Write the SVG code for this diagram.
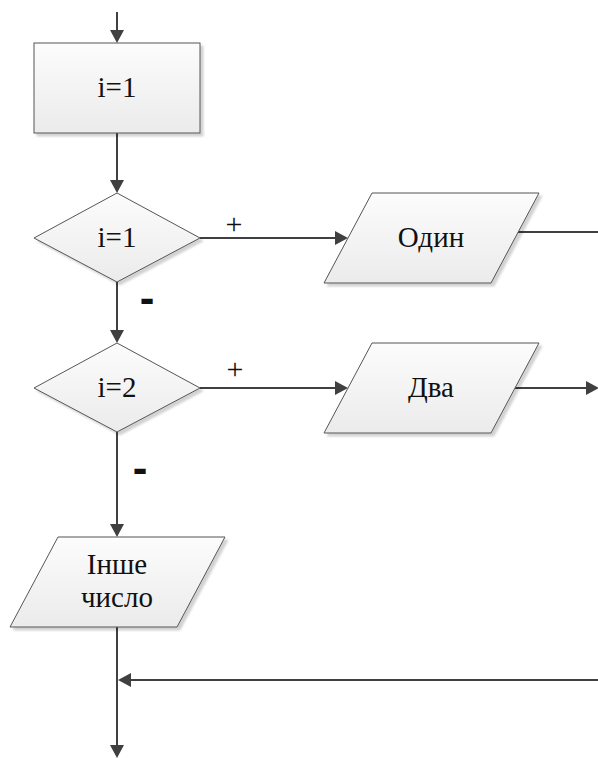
<svg xmlns="http://www.w3.org/2000/svg" width="598" height="758" viewBox="0 0 598 758">
  <defs>
    <linearGradient id="boxFill" x1="0" y1="0" x2="0" y2="1">
      <stop offset="0" stop-color="#fcfcfc"/>
      <stop offset="1" stop-color="#ebebeb"/>
    </linearGradient>
    <filter id="dropShadow" x="-10%" y="-10%" width="130%" height="130%">
      <feGaussianBlur in="SourceAlpha" stdDeviation="1.2"/>
      <feOffset dx="3" dy="3"/>
      <feComponentTransfer><feFuncA type="linear" slope="0.18"/></feComponentTransfer>
      <feMerge><feMergeNode/><feMergeNode in="SourceGraphic"/></feMerge>
    </filter>
    <marker id="head" markerUnits="userSpaceOnUse" markerWidth="14" markerHeight="14" refX="7" refY="7" orient="auto">
      <path d="M0,0 L13,7 L0,14 Z" fill="#404040"/>
    </marker>
  </defs>
  <style>
    .box { fill: url(#boxFill); stroke: #555555; stroke-width: 1; filter: url(#dropShadow); }
    .txt { font-family: "Liberation Serif", "Times New Roman", serif; font-size: 29px; fill: #111111; text-anchor: middle; }
    .plus { font-family: "Liberation Serif", "Times New Roman", serif; font-size: 30px; fill: #111111; text-anchor: middle; }
    .minus { font-family: "Liberation Sans", Arial, sans-serif; font-size: 44px; font-weight: bold; fill: #111111; text-anchor: middle; }
  </style>

  <rect width="598" height="758" fill="#ffffff"/>

  <!-- flow lines -->
  <g id="connectors" fill="none" stroke="#404040" stroke-width="2">
    <path marker-end="url(#head)" d="M117,12 V37"/>
    <path marker-end="url(#head)" d="M117,133 V187"/>
    <path marker-end="url(#head)" d="M117,282 V337"/>
    <path marker-end="url(#head)" d="M117,432 V531"/>
    <path marker-end="url(#head)" d="M117,627 V752"/>
    <path marker-end="url(#head)" d="M200,238 H342"/>
    <path marker-end="url(#head)" d="M200,388 H342"/>
    <path d="M514,232 H598"/>
    <path marker-end="url(#head)" d="M515,388 H593"/>
    <path marker-end="url(#head)" d="M598,680 H124"/>
  </g>

  <!-- branch marks -->
  <g id="branch-labels">
    <text class="plus" x="234" y="234">+</text>
    <text class="plus" x="235" y="379">+</text>
    <text class="minus" x="147" y="313">-</text>
    <text class="minus" x="140" y="483">-</text>
  </g>

  <!-- i=1 assignment -->
  <g id="init">
    <rect class="box" x="34" y="43" width="166" height="90"/>
    <text class="txt" x="117" y="97">i=1</text>
  </g>

  <!-- decision i=1 -->
  <g id="check1">
    <polygon class="box" points="117,193 200,238 117,282 34,238"/>
    <text class="txt" x="117" y="247">i=1</text>
  </g>

  <!-- decision i=2 -->
  <g id="check2">
    <polygon class="box" points="117,343 200,388 117,432 34,388"/>
    <text class="txt" x="117" y="397">i=2</text>
  </g>

  <!-- output Один -->
  <g id="out1">
    <polygon class="box" points="372,193 539,193 491,283 324,283"/>
    <text class="txt" x="431" y="247">Один</text>
  </g>

  <!-- output Два -->
  <g id="out2">
    <polygon class="box" points="372,343 539,343 491,433 324,433"/>
    <text class="txt" x="431" y="397">Два</text>
  </g>

  <!-- output Інше число -->
  <g id="out3">
    <polygon class="box" points="58,537 225,537 177,627 10,627"/>
    <text class="txt" x="117" y="574">Інше</text>
    <text class="txt" x="117" y="607">число</text>
  </g>
</svg>
